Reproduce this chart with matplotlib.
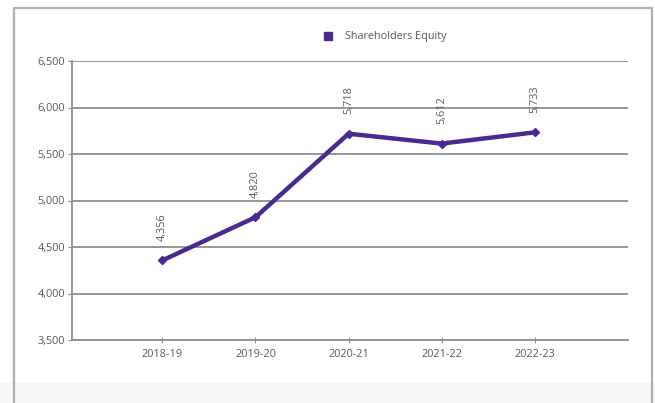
import matplotlib.pyplot as plt
from matplotlib.patches import Rectangle
from matplotlib.lines import Line2D
from matplotlib.ticker import FuncFormatter

years = ['2018-19', '2019-20', '2020-21', '2021-22', '2022-23']
equity = [4356, 4820, 5718, 5612, 5733]
yticks = [3500, 4000, 4500, 5000, 5500, 6000, 6500]

line_color = '#4a2a8e'
grid_color = '#8f8f8f'
text_color = '#5a5a5a'
fs = 7.8

plt.rcParams['font.family'] = ['Open Sans', 'DejaVu Sans']

fig = plt.figure(figsize=(6.55, 4.03), dpi=100)
fig.patch.set_facecolor('white')

# light band at the bottom and the outer frame
fig.add_artist(Rectangle((0, 0), 1, 20 / 403, transform=fig.transFigure,
                         facecolor='#f6f6f6', edgecolor='none', zorder=0))
fig.add_artist(Rectangle((14 / 655, -0.01), 638 / 655, 1.01 - 8 / 403,
                         transform=fig.transFigure, facecolor='none',
                         edgecolor='#b0b0b0', linewidth=1.6, zorder=1))

ax = fig.add_axes([72 / 655, 63 / 403, 556 / 655, 279 / 403])
ax.set_facecolor('none')
xs = list(range(1, len(years) + 1))
ax.plot(xs, equity, color=line_color, linewidth=3.2, marker='D',
        markersize=4, solid_joinstyle='round', zorder=3)

for x, v in zip(xs, equity):
    ax.annotate(f'{v:,}', (x, v), xytext=(0, 14), textcoords='offset points',
                rotation=90, ha='center', va='bottom', fontsize=fs,
                color=text_color)

ax.set_xlim(0.03, 6.0)
ax.set_ylim(3500, 6500)
ax.set_yticks(yticks)
ax.yaxis.set_major_formatter(FuncFormatter(lambda v, p: f'{int(v):,}'))
ax.set_xticks(xs)
ax.set_xticklabels(years)
ax.tick_params(axis='y', length=3, width=0.8, color=grid_color, labelsize=fs,
               labelcolor=text_color, pad=2)
ax.tick_params(axis='x', direction='inout', length=5, width=0.8,
               color=grid_color, labelsize=fs, labelcolor=text_color, pad=4)
ax.grid(axis='y', color=grid_color, linewidth=1.3)
ax.set_axisbelow(True)
for side in ['top', 'right']:
    ax.spines[side].set_visible(False)
for side in ['left', 'bottom']:
    ax.spines[side].set_color(grid_color)
    ax.spines[side].set_linewidth(1.3)

handle = Line2D([], [], color=line_color, marker='s', linestyle='none',
                markersize=5.5)
fig.legend([handle], ['Shareholders Equity'], loc='center',
           bbox_to_anchor=(382 / 655, 1 - 37 / 403), frameon=False,
           fontsize=fs, labelcolor=text_color, handletextpad=0.6)

fig.savefig('out.png', dpi=100)
